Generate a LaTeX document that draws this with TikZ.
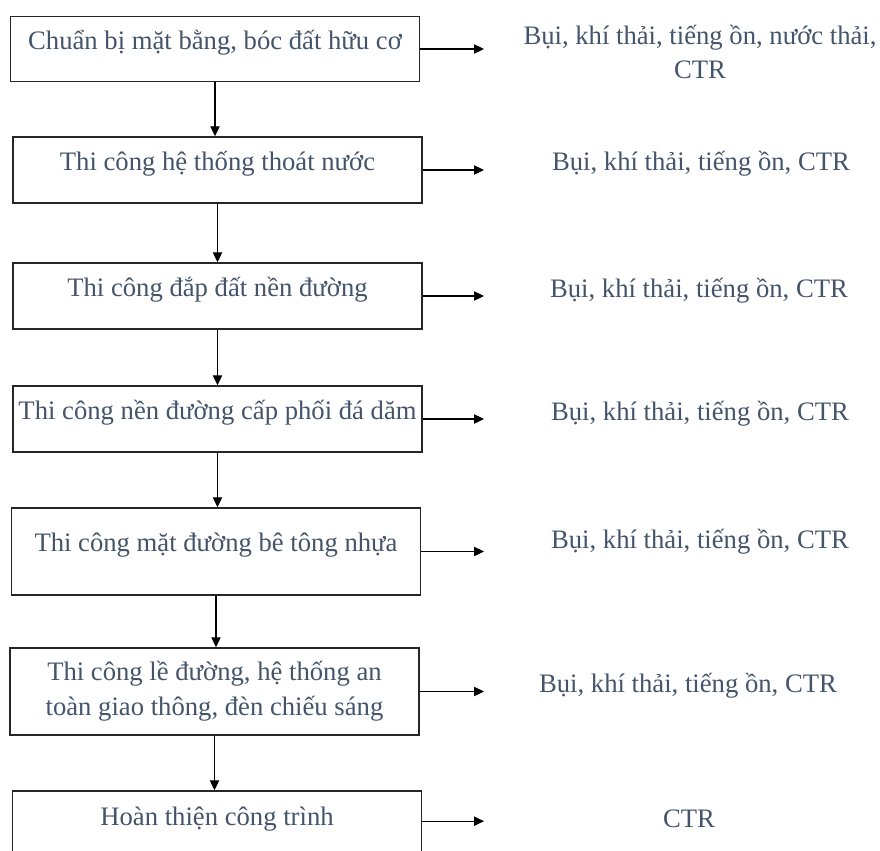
\documentclass[tikz,border=0pt]{standalone}
\usepackage{fontspec}
\setmainfont{Liberation Serif}
\usepackage{tikz}
\usetikzlibrary{arrows.meta}
\definecolor{txtblue}{HTML}{44546A}

\begin{document}
\begin{tikzpicture}[x=0.75pt,y=-0.75pt,
    stagebox/.style={rectangle,draw=black!85,line width=1.1pt,inner sep=0pt,
        minimum width=307pt,minimum height=49.5pt,text=txtblue,
        font=\fontsize{20}{26}\selectfont},
    oneline/.style={text height=0.7em,text depth=0.7em},
    effect/.style={text=txtblue,inner sep=0pt,font=\fontsize{20}{26}\selectfont},
    flow/.style={line width=0.8pt,-{Triangle[length=7.5pt,width=7pt]}}]
            \clip (0,0) rectangle (880,850);

            % Place the stages
            \node[stagebox,oneline,minimum height=48.75pt] (s1) at (215,49) {Chuẩn bị mặt bằng, bóc đất hữu cơ};
            \node[stagebox,oneline] (s2) at (217.5,170) {Thi công hệ thống thoát nước};
            \node[stagebox,oneline] (s3) at (217.5,296) {Thi công đắp đất nền đường};
            \node[stagebox,oneline] (s4) at (217.5,419) {Thi công nền đường cấp phối đá dăm};
            \node[stagebox,oneline,minimum height=65.25pt] (s5) at (216,551.5) {Thi công mặt đường bê tông nhựa};
            \node[stagebox,align=center,minimum height=65.25pt] (s6) at (214.5,691.5) {Thi công lề đường, hệ thống an\\toàn giao thông, đèn chiếu sáng};
            \node[stagebox,minimum height=65.25pt,text height=14pt,text depth=28pt] (s7) at (217,834.5) {Hoàn thiện công trình};

            % Place the waste texts
            \node[effect,align=center] (e1) at (700,52) {Bụi, khí thải, tiếng ồn, nước thải,\\CTR};
            \node[effect,oneline] (e2) at (701,170) {Bụi, khí thải, tiếng ồn, CTR};
            \node[effect,oneline] (e3) at (699,297) {Bụi, khí thải, tiếng ồn, CTR};
            \node[effect,oneline] (e4) at (700,420) {Bụi, khí thải, tiếng ồn, CTR};
            \node[effect,oneline] (e5) at (700,548) {Bụi, khí thải, tiếng ồn, CTR};
            \node[effect,oneline] (e6) at (688,692) {Bụi, khí thải, tiếng ồn, CTR};
            \node[effect,oneline] (e7) at (689,827) {CTR};
            \coordinate (tip) at (484,0);

            % The arrows!
            \draw[flow] (s1.south) -- (s1.south |- s2.north);
            \draw[flow] (s2.south) -- (s2.south |- s3.north);
            \draw[flow] (s3.south) -- (s3.south |- s4.north);
            \draw[flow] (s4.south) -- (s4.south |- s5.north);
            \draw[flow] (s5.south) -- (s5.south |- s6.north);
            \draw[flow] (s6.south) -- (s6.south |- s7.north);
            \draw[flow] (s1.east) -- (s1.east -| tip);
            \draw[flow] (s2.east) -- (s2.east -| tip);
            \draw[flow] (s3.east) -- (s3.east -| tip);
            \draw[flow] (s4.east) -- (s4.east -| tip);
            \draw[flow] (s5.east) -- (s5.east -| tip);
            \draw[flow] (s6.east) -- (s6.east -| tip);
            \draw[flow] ([yshift=3pt]s7.base east) -- ([yshift=3pt]s7.base east -| tip);
        \end{tikzpicture}
\end{document}
